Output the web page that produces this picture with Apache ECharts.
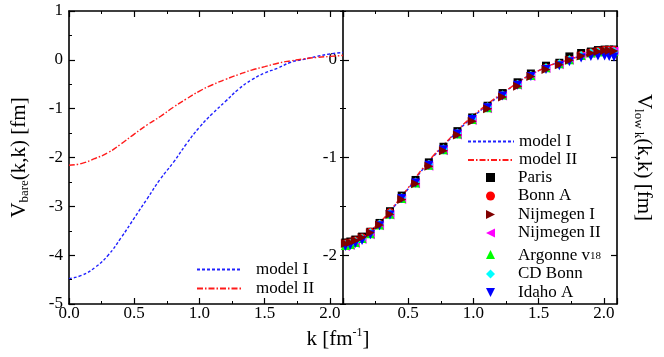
<!DOCTYPE html>
<html><head><meta charset="utf-8">
<script src="https://cdn.jsdelivr.net/npm/echarts@6/dist/echarts.min.js"></script>
<style>html,body{margin:0;padding:0;background:#fff}#c{width:664px;height:357px}</style>
</head><body><div id="c"></div>
<script>
// ---------- data ----------
const kLine = [0,0.1,0.2,0.3,0.4,0.5,0.6,0.7,0.8,0.9,1.0,1.1,1.2,1.3,1.4,1.5,1.6,1.7,1.8,1.9,2.0,2.1];
// left panel: V_bare
const bareModelI  = [-4.48,-4.41,-4.25,-4.00,-3.64,-3.24,-2.84,-2.44,-2.10,-1.72,-1.38,-1.10,-0.85,-0.60,-0.41,-0.27,-0.17,-0.05,0.01,0.07,0.12,0.15];
const bareModelII = [-2.16,-2.12,-2.02,-1.90,-1.72,-1.52,-1.33,-1.16,-0.97,-0.80,-0.64,-0.51,-0.40,-0.30,-0.21,-0.14,-0.07,-0.02,0.02,0.05,0.07,0.09];
// right panel: V_low k
const lowModelI  = [-1.89,-1.85,-1.77,-1.65,-1.49,-1.32,-1.14,-0.98,-0.84,-0.70,-0.58,-0.47,-0.37,-0.27,-0.18,-0.11,-0.05,-0.01,0.03,0.055,0.07,0.07];
const lowModelII = [-1.89,-1.85,-1.76,-1.64,-1.48,-1.31,-1.13,-0.97,-0.83,-0.69,-0.57,-0.46,-0.36,-0.27,-0.18,-0.11,-0.05,-0.01,0.03,0.06,0.075,0.08];
const kMesh = [0.018,0.056,0.095,0.146,0.21,0.28,0.36,0.45,0.556,0.658,0.77,0.877,0.99,1.108,1.223,1.338,1.44,1.556,1.658,1.735,1.825,1.90,1.954,2.005,2.04,2.077];
const paris    = [-1.87,-1.86,-1.84,-1.81,-1.76,-1.67,-1.55,-1.39,-1.23,-1.05,-0.89,-0.73,-0.59,-0.47,-0.34,-0.23,-0.14,-0.06,-0.03,0.035,0.07,0.085,0.10,0.105,0.105,0.105];
const bonnA    = [-1.88,-1.87,-1.85,-1.82,-1.76,-1.68,-1.56,-1.41,-1.25,-1.07,-0.91,-0.75,-0.61,-0.48,-0.36,-0.25,-0.16,-0.08,-0.04,0.00,0.05,0.075,0.09,0.10,0.10,0.10];
const nijmI    = [-1.88,-1.87,-1.85,-1.82,-1.77,-1.69,-1.58,-1.43,-1.27,-1.09,-0.93,-0.77,-0.63,-0.50,-0.38,-0.27,-0.17,-0.10,-0.05,-0.005,0.04,0.07,0.085,0.095,0.095,0.09];
const nijmII   = [-1.91,-1.90,-1.88,-1.84,-1.79,-1.70,-1.59,-1.43,-1.27,-1.09,-0.93,-0.77,-0.62,-0.50,-0.37,-0.26,-0.17,-0.09,-0.05,-0.005,0.04,0.065,0.08,0.085,0.09,0.09];
const argonne  = [-1.90,-1.89,-1.87,-1.83,-1.78,-1.69,-1.58,-1.42,-1.26,-1.08,-0.92,-0.76,-0.61,-0.49,-0.36,-0.25,-0.16,-0.08,-0.04,0.00,0.045,0.07,0.08,0.085,0.085,0.085];
const cdBonn   = [-1.89,-1.88,-1.86,-1.83,-1.77,-1.68,-1.57,-1.41,-1.25,-1.07,-0.91,-0.75,-0.60,-0.48,-0.36,-0.25,-0.16,-0.08,-0.04,0.00,0.045,0.07,0.08,0.085,0.085,0.085];
const idahoA   = [-1.91,-1.90,-1.88,-1.85,-1.79,-1.70,-1.59,-1.42,-1.26,-1.08,-0.92,-0.76,-0.61,-0.49,-0.37,-0.26,-0.17,-0.10,-0.06,-0.02,0.02,0.035,0.04,0.04,0.035,0.03];
const xTickLabels = ['0.0','0.5','1.0','1.5','2.0'];

// ---------- styling ----------
const F = 'Liberation Serif';
const BLUE = '#2020ff', RED = '#ff1a1a';
const pairs = (xs, ys) => xs.map((x, i) => [x, ys[i]]);
const isHalf = v => Math.abs(v * 2 - Math.round(v * 2)) < 1e-6;
const lineW = 1.6;
const TRI_R = 'path://M0,0L10,5L0,10Z';
const TRI_L = 'path://M10,0L0,5L10,10Z';
const TRI_D = 'path://M0,0L10,0L5,10Z';
const TRI_U = 'path://M5,0L10,10L0,10Z';

function xAx(g, pos, labels, hideZero) {
  return {
    type: 'value', gridIndex: g, position: pos, min: 0, max: 2.1, interval: 0.5,
    axisLine: { show: true, onZero: false, lineStyle: { color: '#000', width: lineW } },
    axisTick: { show: true, inside: true, length: 6, lineStyle: { color: '#000', width: 1.2 } },
    minorTick: { show: true, splitNumber: 2, length: 3, lineStyle: { color: '#000', width: 1 } },
    splitLine: { show: false }, minorSplitLine: { show: false },
    axisLabel: {
      show: labels, margin: 1, fontSize: 17, color: '#000', fontFamily: F,
      formatter: v => {
        if (!isHalf(v)) return '';
        if (hideZero && Math.abs(v) < 1e-6) return '';
        const i = Math.round(v * 2);
        return xTickLabels[i] !== undefined ? xTickLabels[i] : '';
      }
    }
  };
}

const nameRich = {
  v: { fontSize: 21, fontFamily: F, color: '#000', lineHeight: 24, verticalAlign: 'middle' },
  s: { fontSize: 13, fontFamily: F, color: '#000', lineHeight: 13, verticalAlign: 'bottom', padding: [13, 0, 0, 0] }
};

const yAxes = [
  { // left panel
    type: 'value', gridIndex: 0, position: 'left', min: -5, max: 1, interval: 1,
    axisLine: { show: true, onZero: false, lineStyle: { color: '#000', width: lineW } },
    axisTick: { show: true, inside: true, length: 6, lineStyle: { color: '#000', width: 1.2 } },
    minorTick: { show: true, splitNumber: 2, length: 3, lineStyle: { color: '#000', width: 1 } },
    splitLine: { show: false },
    axisLabel: { margin: 6, fontSize: 17, color: '#000', fontFamily: F },
    name: '{v|V}{s|bare}{v|(k,k) [fm]}', nameLocation: 'middle', nameRotate: 90, nameGap: 38,
    nameTextStyle: { rich: nameRich }
  },
  { // right panel left axis (long ticks + labels)
    type: 'value', gridIndex: 1, position: 'left', min: -2.5, max: 0.5, interval: 0.5,
    axisLine: { show: true, onZero: false, lineStyle: { color: '#000', width: lineW } },
    axisTick: { show: true, inside: true, length: 6, customValues: [-2, -1, 0], lineStyle: { color: '#000', width: 1.2 } },
    splitLine: { show: false },
    axisLabel: { margin: 6, fontSize: 17, color: '#000', fontFamily: F, customValues: [-2, -1, 0],
      formatter: v => (Math.abs(v - Math.round(v)) < 1e-6 ? String(Math.round(v)) : '') }
  },
  { // right panel left axis short ticks
    type: 'value', gridIndex: 1, position: 'left', min: -2.5, max: 0.5, interval: 0.5,
    axisLine: { show: false }, axisLabel: { show: false }, splitLine: { show: false },
    axisTick: { show: true, inside: true, length: 3, lineStyle: { color: '#000', width: 1 } }
  },
  { // right panel right axis (long ticks + name)
    type: 'value', gridIndex: 1, position: 'right', min: -2.5, max: 0.5, interval: 0.5,
    axisLine: { show: true, onZero: false, lineStyle: { color: '#000', width: lineW } },
    axisTick: { show: true, inside: true, length: 6, customValues: [-2, -1, 0], lineStyle: { color: '#000', width: 1.2 } },
    splitLine: { show: false }, axisLabel: { show: false },
    name: '{v|V}{s|low k}{v|(k,k) [fm]}', nameLocation: 'middle', nameRotate: -90, nameGap: 15,
    nameTextStyle: { rich: nameRich }
  },
  { // right panel right axis short ticks
    type: 'value', gridIndex: 1, position: 'right', min: -2.5, max: 0.5, interval: 0.5,
    axisLine: { show: false }, axisLabel: { show: false }, splitLine: { show: false },
    axisTick: { show: true, inside: true, length: 3, lineStyle: { color: '#000', width: 1 } }
  }
];

function lineSeries(name, xi, yi, ys, color, dash, z) {
  return {
    name, type: 'line', xAxisIndex: xi, yAxisIndex: yi, data: pairs(kLine, ys),
    smooth: true, symbol: 'none', showSymbol: false, z: z || 2,
    lineStyle: { color, width: 1.4, type: dash }, itemStyle: { color }
  };
}
function scat(name, ys, color, symbol, size, z) {
  return {
    name, type: 'scatter', xAxisIndex: 2, yAxisIndex: 1, data: pairs(kMesh, ys),
    symbol, symbolSize: size, itemStyle: { color, opacity: 1 }, z: z || 3
  };
}

const legendFont = { fontSize: 17, fontFamily: F, color: '#000', lineHeight: 15 };
const lineLegendData = [
  { name: 'model I', itemStyle: { opacity: 0 } },
  { name: 'model II', itemStyle: { opacity: 0 } }
];

const option = {
  backgroundColor: '#fff',
  animation: false,
  grid: [
    { left: 69, top: 11, width: 274, height: 293, containLabel: false },
    { left: 343, top: 11, width: 274, height: 293, containLabel: false }
  ],
  xAxis: [xAx(0, 'bottom', true, false), xAx(0, 'top', false, false), xAx(1, 'bottom', true, true), xAx(1, 'top', false, false)],
  yAxis: yAxes,
  legend: [
    {
      left: 196, top: 261, orient: 'vertical', padding: 0, itemWidth: 44, itemHeight: 9, itemGap: 2,
      data: lineLegendData, selectedMode: false,
      textStyle: Object.assign({}, legendFont, { padding: [0, 0, 0, 10] })
    },
    {
      left: 467, top: 133, orient: 'vertical', padding: 0, itemWidth: 46, itemHeight: 9, itemGap: 1.5,
      data: lineLegendData, selectedMode: false,
      textStyle: legendFont
    },
    {
      left: 486, top: 169, orient: 'vertical', padding: 0, itemWidth: 9, itemHeight: 9, itemGap: 1.5,
      data: ['Paris', 'Bonn A', 'Nijmegen I', 'Nijmegen II', 'Argonne v18', 'CD Bonn', 'Idaho A'],
      selectedMode: false,
      formatter: n => n === 'Argonne v18' ? '{n|Argonne v}{s|18}' : n,
      textStyle: Object.assign({}, legendFont, {
        padding: [0, 0, 0, 18],
        rich: {
          n: { fontSize: 17, fontFamily: F, color: '#000', lineHeight: 15, verticalAlign: 'top' },
          s: { fontSize: 11, fontFamily: F, color: '#000', lineHeight: 11, verticalAlign: 'bottom', padding: [8, 0, 0, 0] }
        }
      })
    }
  ],
  graphic: [{
    type: 'text', x: 338, y: 339,
    style: {
      text: '{v|k [fm}{p|-1}{v|]}', align: 'center', verticalAlign: 'middle',
      rich: {
        v: { fontSize: 21, fontFamily: F, fill: '#000', lineHeight: 24, verticalAlign: 'middle' },
        p: { fontSize: 12, fontFamily: F, fill: '#000', lineHeight: 12, verticalAlign: 'top', padding: [0, 0, 12, 0] }
      }
    }
  }],
  series: [
    lineSeries('model I', 0, 0, bareModelI, BLUE, [3, 2]),
    lineSeries('model II', 0, 0, bareModelII, RED, [6, 2, 1.5, 2]),
    lineSeries('model I', 2, 1, lowModelI, BLUE, [3, 2]),
    lineSeries('model II', 2, 1, lowModelII, RED, [6, 2, 1.5, 2]),
    scat('Paris', paris, '#000000', 'rect', 8, 3),
    scat('Bonn A', bonnA, '#ff0000', 'circle', 8, 4),
    scat('Nijmegen II', nijmII, '#ff00ff', TRI_L, 9, 5),
    scat('Argonne v18', argonne, '#00ff00', TRI_U, 9, 5),
    scat('CD Bonn', cdBonn, '#00ffff', 'diamond', 9, 5),
    scat('Idaho A', idahoA, '#0000ff', TRI_D, 9, 5),
    scat('Nijmegen I', nijmI, '#800000', TRI_R, 9, 6)
  ]
};

const chart = echarts.init(document.getElementById('c'), null, { renderer: 'canvas' });
chart.setOption(option);
</script></body></html>
